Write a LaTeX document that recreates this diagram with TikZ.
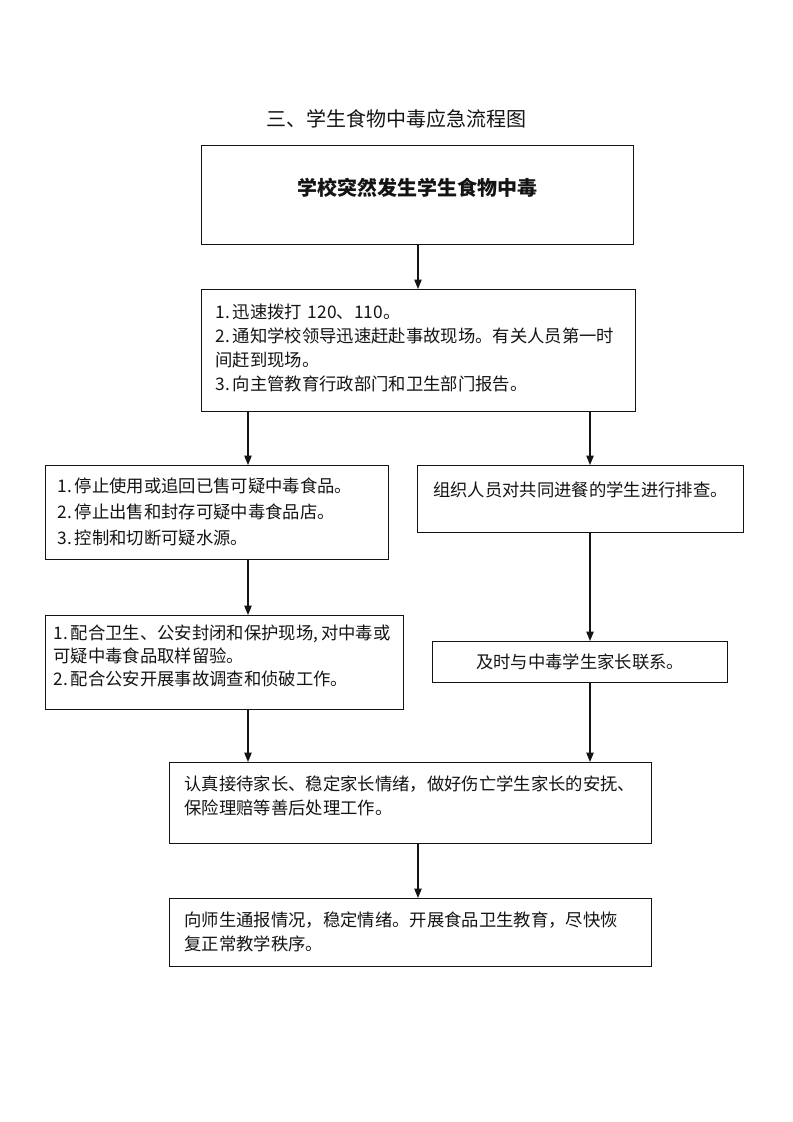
\documentclass[tikz,border=0pt]{standalone}
\usepackage{fontspec}
\setmainfont{Noto Sans CJK SC}
\usetikzlibrary{arrows.meta}
\definecolor{flowInk}{RGB}{20,20,20}

\begin{document}
\begin{tikzpicture}[x=0.75pt, y=-0.75pt,
      box/.style={draw=flowInk, line width=0.8pt, anchor=north west, inner ysep=0pt, inner xsep=0pt,
      align=left, text=flowInk, font=\fontsize{13pt}{18pt}\selectfont},
      arrow/.style={-{Triangle[length=7pt, width=5.5pt]}, line width=0.9pt, draw=flowInk}
    ]
    \useasboundingbox (0,0) rectangle (793,1122);
    \node[text=flowInk, font=\fontsize{15pt}{18pt}\selectfont] (title) at (396,119) {三、学生食物中毒应急流程图};

    \node[box, align=center, text width=324pt, text height=37.5pt, text depth=36.75pt,
      font=\fontsize{15pt}{18pt}\selectfont\bfseries] (b1) at (201,145) {学校突然发生学生食物中毒};
    \node[box, inner xsep=10.5pt, text width=304.5pt, text height=21.75pt, text depth=69.75pt] (b2) at (201,289)
      {1.\,迅速拨打 120、110。\\2.\,通知学校领导迅速赶赴事故现场。有关人员第一时\\间赶到现场。\\3.\,向主管教育行政部门和卫生部门报告。};

    \node[box, inner xsep=9pt, text width=239.25pt, text height=20.25pt, text depth=50.25pt,
      font=\fontsize{13pt}{19.5pt}\selectfont] (b3) at (45,465)
      {1.\,停止使用或追回已售可疑中毒食品。\\2.\,停止出售和封存可疑中毒食品店。\\3.\,控制和切断可疑水源。};
    \node[box, align=center, text width=244.5pt, text height=23.25pt, text depth=27pt] (b4) at (417,465)
      {组织人员对共同进餐的学生进行排查。};

    \node[box, inner xsep=6pt, text width=256.5pt, text height=18pt, text depth=52.5pt,
      font=\fontsize{13pt}{17.25pt}\selectfont] (b6) at (45,615)
      {1.\,配合卫生、公安封闭和保护现场,\,对中毒或\\可疑中毒食品取样留验。\\2.\,配合公安开展事故调查和侦破工作。};
    \node[box, align=center, text width=221.25pt, text height=20.25pt, text depth=10.5pt] (b5) at (432,641)
      {及时与中毒学生家长联系。};

    \node[box, inner xsep=11.25pt, text width=339pt, text height=21pt, text depth=39.75pt] (b7) at (169,762)
      {认真接待家长、稳定家长情绪，做好伤亡学生家长的安抚、\\保险理赔等善后处理工作。};
    \node[box, inner xsep=11.25pt, text width=339pt, text height=21pt, text depth=30pt] (b8) at (169,898)
      {向师生通报情况，稳定情绪。开展食品卫生教育，尽快恢\\复正常教学秩序。};

    \coordinate (cl) at (248,0);
    \coordinate (cm) at (418,0);
    \coordinate (cr) at (590,0);

    \draw[arrow] (b1.south -| cm) -- (b2.north -| cm);
    \draw[arrow] (b2.south -| cl) -- (b3.north -| cl);
    \draw[arrow] (b2.south -| cr) -- (b4.north -| cr);
    \draw[arrow] (b3.south -| cl) -- (b6.north -| cl);
    \draw[arrow] (b4.south -| cr) -- (b5.north -| cr);
    \draw[arrow] (b6.south -| cl) -- (b7.north -| cl);
    \draw[arrow] (b5.south -| cr) -- (b7.north -| cr);
    \draw[arrow] (b7.south -| cm) -- (b8.north -| cm);
  \end{tikzpicture}
\end{document}
